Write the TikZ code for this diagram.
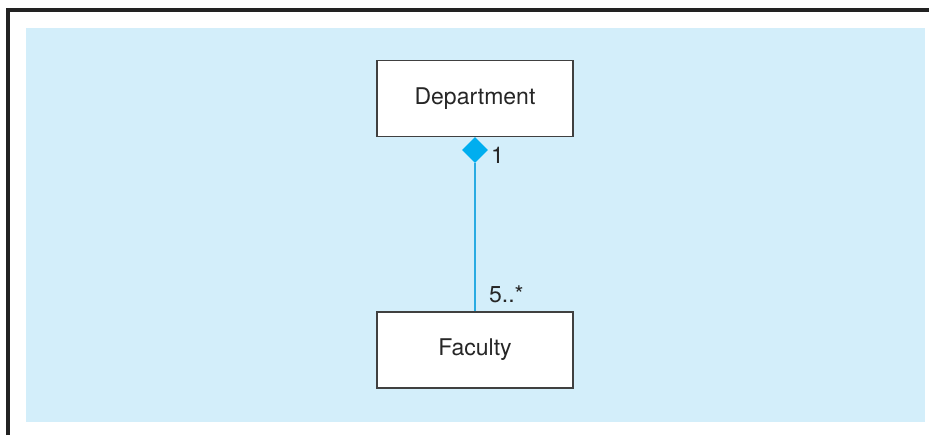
\documentclass[tikz,border=0pt]{standalone}
\usepackage{fontspec}
\setmainfont{TeX Gyre Heros}
\usetikzlibrary{shapes.geometric}
\definecolor{panelblue}{HTML}{D3EEFA}
\definecolor{linkblue}{HTML}{29ABE2}
\definecolor{diamondblue}{HTML}{00AEEF}
\definecolor{framegray}{HTML}{222222}

\begin{document}
\begin{tikzpicture}[x=0.5pt,y=-0.5pt,every node/.style={font=\fontsize{11.5}{14}\selectfont,text=black!85},
   classbox/.style={draw=black!75,fill=white,line width=0.7pt,minimum width=98pt,minimum height=38pt,inner sep=0pt},
   agg/.style={diamond,fill=diamondblue,inner sep=0pt,minimum width=13pt,minimum height=13pt}]
  \useasboundingbox (0,0) rectangle (929,435);
  \fill[panelblue] (26,28) rectangle (925,422);
  \draw[framegray,line width=1.6pt] (8,435)--(8,10)--(929,10);
  \node[classbox] (dept) at (475,98.5) {Department};
  \node[classbox] (fac) at (475,350) {Faculty};
  \node[agg] (whole) at (475,150) {};
  \draw[linkblue,line width=0.6pt] (whole.south)--(fac.north);
  \node[anchor=west] (mult1) at (484,155) {1};
  \node[anchor=west] (mult2) at (482,294) {5..*};
 \end{tikzpicture}
\end{document}
